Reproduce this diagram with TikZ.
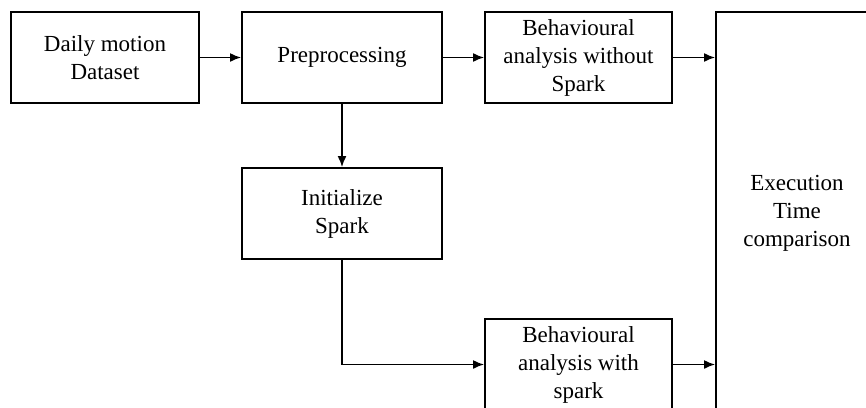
\documentclass[tikz,border=0pt]{standalone}
\usepackage{fontspec}
\setmainfont{Liberation Serif}
\usepackage{tikz}
\usetikzlibrary{calc,positioning,arrows.meta}

\begin{document}
\begin{tikzpicture}[x=1pt,y=-1pt,
		box/.style={draw, line width=1.8pt, inner sep=0pt, align=center,
			font=\fontsize{23}{28}\selectfont},
		link/.style={line width=1.8pt, -{Latex[length=11pt,width=9pt]}}]
		\useasboundingbox (0,0) rectangle (866,407);
		\clip (0,0) rectangle (866,407);

		\node [box, minimum width=188pt, minimum height=91pt] (data) at (105,57.5) {Daily motion\\Dataset};
		\node [box, minimum width=200pt, minimum height=91pt] (pre) at (342,57.5) {Preprocessing};
		\node [box, minimum width=187pt, minimum height=91pt] (without) at (578.5,57.5) {Behavioural\\analysis without\\Spark};
		\node [box, minimum width=200pt, minimum height=91pt] (init) at (342,213.5) {Initialize\\Spark};
		\node [box, minimum width=187pt, minimum height=91pt] (with) at (578.5,364.5) {Behavioural\\analysis with\\spark};
		\node [box, minimum width=162pt, minimum height=402pt] (exec) at (797,213) {Execution\\Time\\comparison};

		\draw[link] (data) -- (pre);
		\draw[link] (pre) -- (without);
		\draw[link] (without.east) -- (without.east -| exec.west);
		\draw[link] (pre) -- (init);
		\draw[link] (init.south) |- (with.west);
		\draw[link] (with.east) -- (with.east -| exec.west);
	\end{tikzpicture}
\end{document}
